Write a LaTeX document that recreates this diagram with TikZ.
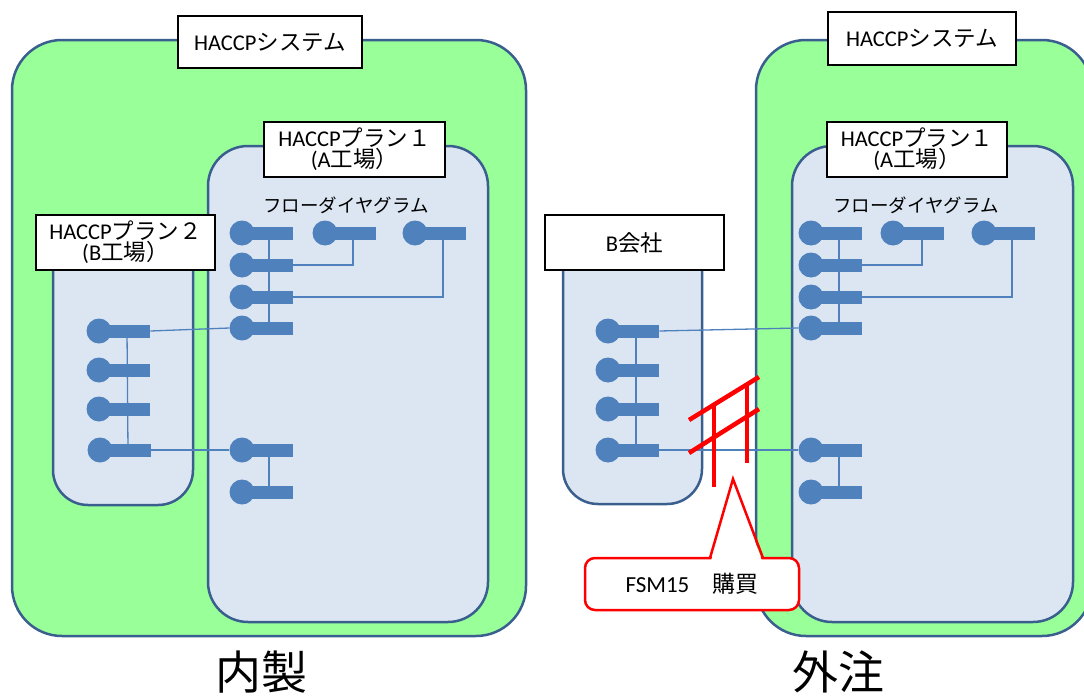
\documentclass[tikz,border=0pt]{standalone}
\usepackage{fontspec}
\setmainfont{Noto Sans CJK JP}
\newfontfamily\lat{Carlito}
\usetikzlibrary{calc}

\definecolor{boxgreen}{HTML}{99FF99}
\definecolor{edgeblue}{HTML}{3A5F8E}
\definecolor{plantfill}{HTML}{DCE6F2}
\definecolor{flowblue}{HTML}{4F81BD}

\tikzset{
  sysbox/.style={draw=edgeblue, line width=2.5pt, fill=boxgreen, rounded corners=50pt, inner sep=0pt},
  plantbox/.style={draw=edgeblue, line width=2.5pt, fill=plantfill, rounded corners=40pt, inner sep=0pt},
  tag/.style={draw=black, line width=2.5pt, fill=white, inner sep=0pt, align=center,
    font=\fontsize{22.5}{21}\selectfont},
  dotnode/.style={circle, fill=flowblue, inner sep=0pt, minimum size=25pt},
  barnode/.style={rectangle, fill=flowblue, inner sep=0pt, minimum width=51pt, minimum height=13pt, anchor=west},
  link/.style={draw=flowblue, line width=1.3pt},
  cut/.style={draw=red, line width=4.5pt},
  calloutbox/.style={draw=red, line width=2.5pt, fill=white, rounded corners=10pt, inner sep=0pt,
    minimum width=214pt, minimum height=52pt, font=\fontsize{23}{24}\selectfont},
  flowtitle/.style={font=\fontsize{18.5}{20}\selectfont, inner sep=0pt},
  bigword/.style={font=\fontsize{46}{48}\selectfont, inner sep=0pt},
}

% a flow-diagram step: round head with a bar to its right
\newcommand\flowmark[3]{%
  \node[barnode] (#1b) at (#2,#3) {};
  \node[dotnode] (#1) at (#2,#3) {};
}

\begin{document}
\begin{tikzpicture}[x=1pt, y=-1pt]
\useasboundingbox (0,0) rectangle (1084,696);
\clip (0,0) rectangle (1084,696);

% ---- system containers ----
\node[sysbox, minimum width=514pt, minimum height=596pt] (sysL) at (269,338) {};
\node[sysbox, minimum width=336pt, minimum height=596pt] (sysR) at (924,338) {};

% ---- plant / company containers ----
\node[plantbox, minimum width=280pt, minimum height=476pt] (plantAL) at (348,384) {};
\node[plantbox, minimum width=140pt, minimum height=275pt, rounded corners=35pt] (plantB) at (123,367.5) {};
\node[plantbox, minimum width=139pt, minimum height=274pt, rounded corners=35pt] (compB) at (632.5,367) {};
\node[plantbox, minimum width=281pt, minimum height=476pt] (plantAR) at (932.5,384) {};

% ---- tags ----
\node[tag, minimum width=184pt, minimum height=52pt] (tagSysL) at (270,42) {{\lat HACCP}システム};
\node[tag, minimum width=188pt, minimum height=53pt] (tagSysR) at (922,38.5) {{\lat HACCP}システム};
\node[tag, minimum width=181pt, minimum height=55pt] (tagAL) at (354.5,149.5) {{\lat HACCP}プラン１\\{\lat (A}工場）};
\node[tag, minimum width=180pt, minimum height=55pt] (tagAR) at (917,149.5) {{\lat HACCP}プラン１\\{\lat (A}工場）};
\node[tag, minimum width=179pt, minimum height=55pt] (tagB) at (125.5,242.5) {{\lat HACCP}プラン２\\{\lat (B}工場）};
\node[tag, minimum width=179pt, minimum height=55pt] (tagComp) at (634.5,242.5) {{\lat B}会社};

\node[flowtitle] (fdL) at (346,205) {フローダイヤグラム};
\node[flowtitle] (fdR) at (916,205) {フローダイヤグラム};

% ---- flow steps: plant A (in-house) ----
\flowmark{a1}{242}{233}
\flowmark{a2}{242}{265}
\flowmark{a3}{242}{297}
\flowmark{a4}{242}{328}
\flowmark{a5}{242}{450}
\flowmark{a6}{242}{492}
\flowmark{c2}{325}{233}
\flowmark{c3}{415}{233}

% ---- flow steps: plant B ----
\flowmark{b1}{99}{331}
\flowmark{b2}{99}{370}
\flowmark{b3}{99}{409}
\flowmark{b4}{100}{450}

% ---- flow steps: company B ----
\flowmark{k1}{608}{331}
\flowmark{k2}{608}{370}
\flowmark{k3}{608}{409}
\flowmark{k4}{608}{450}

% ---- flow steps: plant A (outsourced) ----
\flowmark{r1}{811}{233}
\flowmark{r2}{811}{265}
\flowmark{r3}{811}{297}
\flowmark{r4}{811}{328}
\flowmark{r5}{811}{450}
\flowmark{r6}{811}{492}
\flowmark{rc2}{893}{233}
\flowmark{rc3}{984}{233}

% ---- links, left ----
\draw[link] ([xshift=27pt]a1.center) -- ([xshift=27pt]a4.center);
\draw[link] (a2b.east) -| ([xshift=28pt]c2.center);
\draw[link] (a3b.east) -| ([xshift=28pt]c3.center);
\draw[link] ([xshift=27pt]a5.center) -- ([xshift=27pt]a6.center);
\draw[link] ([xshift=28pt]b1.center) -- ([xshift=28pt]b4.center);
\draw[link] (b1b.east) -- (a4.west);
\draw[link] (b4b.east) -- (a5.west);

% ---- links, right ----
\draw[link] ([xshift=28pt]r1.center) -- ([xshift=28pt]r4.center);
\draw[link] (r2b.east) -| ([xshift=29pt]rc2.center);
\draw[link] (r3b.east) -| ([xshift=28pt]rc3.center);
\draw[link] ([xshift=28pt]r5.center) -- ([xshift=28pt]r6.center);
\draw[link] ([xshift=28pt]k1.center) -- ([xshift=28pt]k4.center);
\draw[link] (k1b.east) -- (r4.west);
\draw[link] (k4b.east) -- (r5.west);

% ---- cut marks over the purchase link ----
\draw[cut] (689,420) -- (759,377);
\draw[cut] (689,453) -- (759,409);
\draw[cut] (714,404) -- (714,487);
\draw[cut] (747,385) -- (747,463);

% ---- callout ----
\node[calloutbox] (fsm) at (692,584) {{\lat FSM15}　購買};
\coordinate (tip) at (733,479);
\fill[white] (711,561) -- (tip) -- (762,561) -- cycle;
\draw[red, line width=2.5pt, line join=miter] (710,558) -- (tip) -- (763,558);

% ---- captions ----
\node[bigword] (inhouse) at (261,672) {内製};
\node[bigword] (outsourced) at (838,672) {外注};
\end{tikzpicture}
\end{document}
